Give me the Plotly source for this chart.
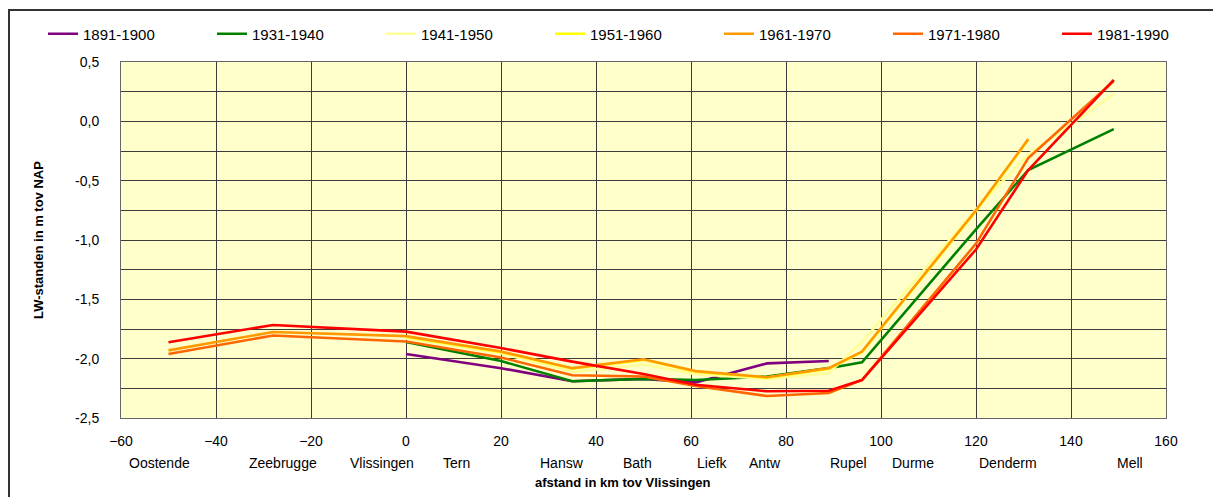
import plotly.graph_objects as go

# distances (km from Vlissingen) of the measuring stations
km_all = [-50, -28, 0, 20, 35, 50, 61, 76, 89, 96, 120, 131, 149]

series_names = ["1891-1900", "1931-1940", "1941-1950", "1951-1960",
                "1961-1970", "1971-1980", "1981-1990"]
series_colors = ["#800080", "#008000", "#FFFF99", "#FFFF00",
                 "#FF9900", "#FF6600", "#FF0000"]

km_1891 = [0, 20, 35, 50, 61, 76, 89]
lw_1891 = [-1.96, -2.08, -2.19, -2.17, -2.20, -2.04, -2.02]

km_1931 = [0, 20, 35, 50, 61, 76, 89, 96, 120, 131, 149]
lw_1931 = [-1.86, -2.02, -2.19, -2.17, -2.18, -2.15, -2.08, -2.03, -0.91, -0.41, -0.065]

km_1941 = [0, 20, 35, 50, 61, 76, 89, 96, 120, 131, 149]
lw_1941 = [-1.83, -1.955, -2.11, -2.05, -2.13, -2.17, -2.12, -1.86, -0.74, -0.28, 0.23]

km_1951 = [0, 20, 35, 50, 61, 76, 89, 96, 120, 131]
lw_1951 = [-1.815, -1.945, -2.085, -2.01, -2.11, -2.16, -2.085, -1.945, -0.755, -0.155]

km_1961 = [-50, -28, 0, 20, 35, 50, 61, 76, 89, 96, 120, 131]
lw_1961 = [-1.93, -1.775, -1.81, -1.94, -2.08, -2.005, -2.105, -2.157, -2.08, -1.94, -0.75, -0.15]

km_1971 = [-50, -28, 0, 20, 35, 50, 61, 76, 89, 96, 120, 131, 149]
lw_1971 = [-1.96, -1.805, -1.855, -1.99, -2.14, -2.15, -2.23, -2.315, -2.29, -2.18, -1.03, -0.31, 0.34]

km_1981 = [-50, -28, 0, 20, 35, 50, 61, 76, 89, 96, 120, 131, 149]
lw_1981 = [-1.862, -1.716, -1.772, -1.91, -2.025, -2.13, -2.22, -2.275, -2.27, -2.18, -1.08, -0.41, 0.35]

series_x = [km_1891, km_1931, km_1941, km_1951, km_1961, km_1971, km_1981]
series_y = [lw_1891, lw_1931, lw_1941, lw_1951, lw_1961, lw_1971, lw_1981]

# station names and their label positions (km)
station_labels = ["Oostende", "Zeebrugge", "Vlissingen", "Tern", "Hansw", "Bath",
                  "Liefk", "Antw", "Rupel", "Durme", "Denderm", "Mell"]
station_label_km = [-51.9, -25.9, -5.0, 10.7, 32.8, 48.8, 64.6, 75.6, 93.1, 106.8, 126.8, 152.5]

y_tickvals = [0.5, 0.0, -0.5, -1.0, -1.5, -2.0, -2.5]
y_ticktext = ["0,5", "0,0", "-0,5", "-1,0", "-1,5", "-2,0", "-2,5"]

FONT = "Liberation Sans, Arial, sans-serif"

fig = go.Figure()
n = len(series_names)
for i, (name, col, xs, ys) in enumerate(zip(series_names, series_colors, series_x, series_y)):
    fig.add_trace(go.Scatter(x=xs, y=ys, mode="lines", name=name,
                             line=dict(color=col, width=2.6),
                             legendwidth=(80 if i == n - 1 else None)))

# page has an 8px body margin: design in screen pixels, then shift
OFF = 8
W, H = 1221, 497
L, T = 121 - OFF, 62 - OFF
pw, ph = 1045, 356
R, B = W - L - pw, H - T - ph

def px_x(p):
    return (p - OFF - L) / pw

def px_y(p):
    return 1 - (p - OFF - T) / ph

annotations = []
for lab, k in zip(station_labels, station_label_km):
    annotations.append(dict(x=k, xref="x", y=px_y(463), yref="paper",
                            text=lab, showarrow=False, xanchor="center", yanchor="middle",
                            font=dict(family=FONT, size=14, color="#000")))
annotations.append(dict(x=px_x(623), xref="paper", y=px_y(482), yref="paper",
                        text="<b>afstand in km tov Vlissingen</b>", showarrow=False,
                        xanchor="center", yanchor="middle",
                        font=dict(family=FONT, size=13, color="#000")))
annotations.append(dict(x=px_x(38), xref="paper", y=0.5, yref="paper",
                        text="<b>LW-standen in m tov NAP</b>", showarrow=False, textangle=-90,
                        xanchor="center", yanchor="middle",
                        font=dict(family=FONT, size=13, color="#000")))

fig.update_layout(
    width=W, height=H,
    margin=dict(l=L, r=R, t=T, b=B, autoexpand=False),
    paper_bgcolor="white",
    plot_bgcolor="#FFFFCC",
    font=dict(family=FONT, size=14, color="#000"),
    showlegend=True,
    legend=dict(orientation="h", x=px_x(43), xanchor="left", y=px_y(34), yanchor="middle",
                font=dict(family=FONT, size=15, color="#000"),
                entrywidth=124, entrywidthmode="pixels", bgcolor="rgba(0,0,0,0)",
                traceorder="normal"),
    xaxis=dict(range=[-60, 160], tickmode="array", tickvals=list(range(-60, 161, 20)),
               showgrid=True, gridcolor="#3c3c3c", gridwidth=1, zeroline=False,
               showline=True, linecolor="#666", linewidth=1, mirror=True,
               ticks="", ticklabelstandoff=10,
               tickfont=dict(family=FONT, size=14, color="#000")),
    yaxis=dict(range=[-2.5, 0.5], tickmode="array", tickvals=y_tickvals, ticktext=y_ticktext,
               showgrid=True, gridcolor="#3c3c3c", gridwidth=1, zeroline=False,
               minor=dict(dtick=0.25, tick0=0, showgrid=True, gridcolor="#3c3c3c", gridwidth=1),
               showline=True, linecolor="#666", linewidth=1, mirror=True,
               ticks="", ticklabelstandoff=18,
               tickfont=dict(family=FONT, size=14, color="#000")),
    annotations=annotations,
    shapes=[dict(type="rect", xref="paper", yref="paper",
                 x0=px_x(9), x1=px_x(1240), y0=px_y(520), y1=px_y(10),
                 line=dict(color="#333", width=2), fillcolor="rgba(0,0,0,0)", layer="above")],
)

fig.write_html("out.html")
